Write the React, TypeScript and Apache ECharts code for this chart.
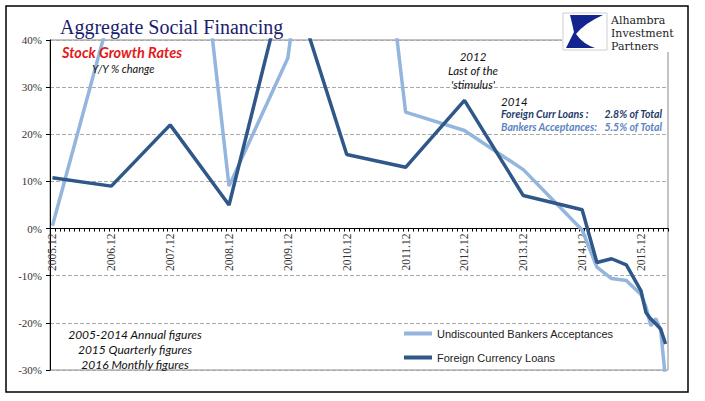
import React, { useEffect, useRef } from "react";
import * as echarts from "echarts";

// ---- data ----
const pointDates = [
  "2005.12", "2006.12", "2007.12", "2008.12", "2009.12", "2010.12", "2011.12",
  "2012.12", "2013.12", "2014.12", "2015.03", "2015.06", "2015.09", "2015.12",
  "2016.01", "2016.02", "2016.03", "2016.04", "2016.05",
];
const bankersAcceptances = [
  0.6, 46.5, 120, 9, 36.2, 131, 24.7, 20.8, 12.5, -0.3, -8.2, -10.6, -11, -14,
  -16.6, -20.6, -19.1, -21.5, -32,
];
const foreignCurrencyLoans = [
  10.8, 9, 22, 5, 55, 15.7, 13, 27.2, 7, 4, -7.2, -6.4, -7.7, -13.2, -17.8,
  -19.2, -20.2, -21.3, -24.5,
];
const seriesNames = ["Undiscounted Bankers Acceptances", "Foreign Currency Loans"];
const yMin = -30;
const yMax = 40;
const yStep = 10;
const noteLines = ["2005-2014 Annual figures", "2015 Quarterly figures", "2016 Monthly figures"];
const stimulusLines = ["2012", "Last of the", "'stimulus'"];
const logoLines = ["Alhambra", "Investment", "Partners"];

// monthly category axis spanning the first to the last date
function buildMonths(first: string, last: string): string[] {
  const [fy, fm] = first.split(".").map(Number);
  const [ly, lm] = last.split(".").map(Number);
  const out: string[] = [];
  let y = fy, m = fm;
  while (y < ly || (y === ly && m <= lm)) {
    out.push(`${y}.${String(m).padStart(2, "0")}`);
    m++;
    if (m > 12) { m = 1; y++; }
  }
  return out;
}
const months = buildMonths(pointDates[0], pointDates[pointDates.length - 1]);
function toMonthly(vals: number[]) {
  return months.map((mo) => {
    const i = pointDates.indexOf(mo);
    return i >= 0 ? vals[i] : null;
  });
}

// logo mark
const logoPath =
  "M7 2 L40 2 Q22 10 13 21 Q20 31 32 35 L3 35 Q7 27 11 19 Q9 10 7 2 Z";
echarts.graphic.registerShape("logo", echarts.graphic.extendPath(logoPath as any, {}) as any);

const LIGHT = "#93b5de";
const DARK = "#2f5788";
const ITAL = "Lato, 'Open Sans', sans-serif";

// layout
const W = 705, H = 401;
const GRID = { left: 50, right: 37, top: 40, bottom: 31 };
const plotH = H - GRID.top - GRID.bottom;
// lift the category axis from the bottom edge up to the 0% line
const zeroLift = ((0 - yMin) / (yMax - yMin)) * plotH;

function txt(x: number, y: number, text: string, font: string, fill: string, align = "left", extra: any = {}) {
  return {
    type: "text",
    x, y, z: 100,
    style: { text, font, fill, textAlign: align, textVerticalAlign: "middle", ...extra },
  };
}

export default function App() {
  const ref = useRef<HTMLDivElement>(null);
  useEffect(() => {
    const chart = echarts.init(ref.current!, null, { renderer: "svg" });
    const option: any = {
      animation: false,
      backgroundColor: "#fff",
      title: {
        text: "Aggregate Social Financing",
        left: 55,
        top: 12,
        textStyle: {
          fontFamily: "'Liberation Serif', serif",
          fontSize: 20,
          fontWeight: "normal",
          color: "#1c1c6e",
        },
      },
      grid: {
        ...GRID,
        containLabel: false,
        outerBoundsMode: "none",
        show: true, borderColor: "#888", borderWidth: 1,
      },
      legend: {
        orient: "vertical",
        left: 404,
        top: 328,
        padding: 0,
        itemWidth: 28,
        itemHeight: 4,
        itemGap: 13,
        icon: "rect",
        data: seriesNames,
        textStyle: { fontFamily: "'Liberation Sans', Arial", fontSize: 11, color: "#222" },
      },
      xAxis: {
        type: "category",
        data: months,
        boundaryGap: true,
        position: "bottom",
        offset: -zeroLift,
        axisLine: { onZero: false, lineStyle: { color: "#000", width: 1 } },
        axisTick: { show: true, interval: 0, length: 3, lineStyle: { color: "#000" } },
        axisLabel: {
          interval: 11,
          rotate: 90,
          margin: 5,
          fontFamily: "'Liberation Serif', serif",
          fontSize: 11.5,
          color: "#333",
        },
        splitLine: { show: false },
      },
      yAxis: {
        type: "value",
        min: yMin, max: yMax, interval: yStep,
        axisLine: { show: true, lineStyle: { color: "#000" } },
        axisTick: { show: true, length: 4, lineStyle: { color: "#000" } },
        axisLabel: {
          formatter: "{value}%",
          fontFamily: "'Liberation Serif', serif",
          fontSize: 11,
          color: "#333",
          margin: 8,
        },
        splitLine: { show: true, lineStyle: { type: "dashed", color: "#aaa", width: 1 } },
      },
      series: [
        {
          name: seriesNames[0], type: "line", data: toMonthly(bankersAcceptances),
          connectNulls: true, symbol: "none", clip: true,
          lineStyle: { color: LIGHT, width: 3.5 }, itemStyle: { color: LIGHT },
        },
        {
          name: seriesNames[1], type: "line", data: toMonthly(foreignCurrencyLoans),
          connectNulls: true, symbol: "none", clip: true,
          lineStyle: { color: DARK, width: 3.5 }, itemStyle: { color: DARK },
        },
      ],
      graphic: [
        { type: "rect", z: 100, shape: { x: 6, y: 6, width: 682, height: 386 },
          style: { fill: "none", stroke: "#000", lineWidth: 1.5 } },
        { type: "rect", z: 100, shape: { x: 562, y: 10, width: 124, height: 42 },
          style: { fill: "#fff" } },
        { type: "rect", z: 101, shape: { x: 563, y: 13, width: 44, height: 37 },
          style: { fill: "#fff", stroke: "#cfcfcf", lineWidth: 1 } },
        { type: "logo", z: 102, x: 563, y: 13, scaleX: 1, scaleY: 1, style: { fill: "#14248f" } },
        ...logoLines.map((t, i) => txt(611, 20 + i * 13, t, "11px 'DejaVu Serif', serif", "#222")),
        txt(62, 52, "Stock Growth Rates", `italic bold 14.5px ${ITAL}`, "#e31a1c"),
        txt(92, 68, "Y/Y % change", `italic 11px ${ITAL}`, "#111"),
        ...stimulusLines.map((t, i) => txt(473, 56 + i * 14, t, `italic 11.5px ${ITAL}`, "#111", "center")),
        txt(501, 101, "2014", `italic 11.5px ${ITAL}`, "#111"),
        txt(501, 114, "Foreign Curr Loans :", `italic bold 10.5px ${ITAL}`, "#1f3b6b"),
        txt(662, 114, "2.8% of Total", `italic bold 10.5px ${ITAL}`, "#1f3b6b", "right"),
        txt(501, 127, "Bankers Acceptances:", `italic bold 10.5px ${ITAL}`, "#5b84c0"),
        txt(662, 127, "5.5% of Total", `italic bold 10.5px ${ITAL}`, "#5b84c0", "right"),
        ...noteLines.map((t, i) => txt(135, 334 + i * 15, t, `italic 12px ${ITAL}`, "#111", "center")),
      ],
    };
    chart.setOption(option);
    return () => chart.dispose();
  }, []);
  return (
    <div
      ref={ref}
      style={{ position: "fixed", left: 0, top: 0, width: W, height: H, background: "#fff" }}
    />
  );
}
